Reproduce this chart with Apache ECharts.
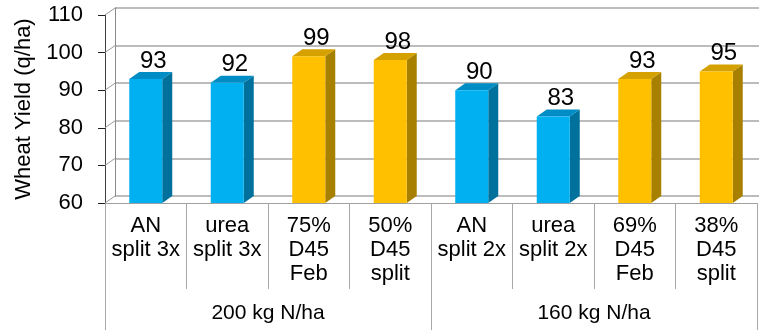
<!DOCTYPE html>
<html>
<head>
<meta charset="utf-8">
<script src="https://cdn.jsdelivr.net/npm/echarts@6/dist/echarts.min.js"></script>
<style>
  html, body { margin: 0; padding: 0; background: #fff; }
  #chart { width: 759px; height: 330px; }
</style>
</head>
<body>
<div id="chart"></div>
<script>
// Treatments, yields and grouping
const categories = [
  'AN\nsplit 3x', 'urea\nsplit 3x', '75%\nD45\nFeb', '50%\nD45\nsplit',
  'AN\nsplit 2x', 'urea\nsplit 2x', '69%\nD45\nFeb', '38%\nD45\nsplit'
];
const yieldValues = [93, 92, 99, 98, 90, 83, 93, 95];
const fertiliserType = ['std', 'std', 'D45', 'D45', 'std', 'std', 'D45', 'D45'];
const nitrogenGroups = ['200 kg N/ha', '160 kg N/ha'];
const yTicks = [60, 70, 80, 90, 100, 110];

const FONT = '"Liberation Sans", Arial, sans-serif';
const DEPTH_X = 10, DEPTH_Y = -7;   // oblique depth of the 3D box
const Y_MIN = 60, Y_MAX = 110, Y_STEP = 10;

const palette = {
  std: { front: '#00B0F0', side: '#00709C', top: '#008CC4' },
  D45: { front: '#FFC000', side: '#A88000', top: '#D4A100' }
};

const chart = echarts.init(document.getElementById('chart'), null, { renderer: 'canvas' });

const barData = yieldValues.map((v, i) => [i, v, i]);
const tickData = yTicks.map(v => [0, v]);

const option = {
  animation: false,
  backgroundColor: '#ffffff',
  grid: [
    // front plane
    { left: 105, right: 2, top: 15, bottom: 127, containLabel: false },
    // back wall, shifted by the depth offset
    { left: 105 + DEPTH_X, right: 2 - DEPTH_X - 20, top: 15 + DEPTH_Y, bottom: 127 - DEPTH_Y, containLabel: false }
  ],
  xAxis: [
    {
      type: 'category', gridIndex: 0, data: categories,
      axisLine: { show: true, lineStyle: { color: '#a0a0a0', width: 1 } },
      axisTick: { show: true, interval: 0, length: 86, lineStyle: { color: '#a8a8a8', width: 1 } },
      axisLabel: { interval: 0, margin: 11, fontSize: 22, lineHeight: 24, color: '#000', fontFamily: FONT },
      splitLine: { show: false }
    },
    {
      type: 'category', gridIndex: 0, data: nitrogenGroups, position: 'bottom',
      axisLine: { show: false },
      axisTick: { show: true, interval: 0, length: 128, lineStyle: { color: '#a8a8a8', width: 1 } },
      axisLabel: { interval: 0, margin: 100, fontSize: 21, color: '#000', fontFamily: FONT },
      splitLine: { show: false }
    },
    {
      type: 'value', gridIndex: 1, min: 0, max: 1, show: false
    }
  ],
  yAxis: [
    {
      type: 'value', gridIndex: 0, min: Y_MIN, max: Y_MAX, interval: Y_STEP,
      name: 'Wheat Yield (q/ha)', nameLocation: 'middle', nameGap: 68, nameRotate: 90,
      nameTextStyle: { fontSize: 22, color: '#000', fontFamily: FONT },
      axisLine: { show: true, lineStyle: { color: '#404040', width: 1 } },
      axisTick: { show: true, length: 7, lineStyle: { color: '#202020', width: 1 } },
      axisLabel: { margin: 22, fontSize: 22, color: '#000', fontFamily: FONT },
      splitLine: { show: false }
    },
    {
      type: 'value', gridIndex: 1, min: Y_MIN, max: Y_MAX, interval: Y_STEP,
      axisLine: { show: true, lineStyle: { color: '#8a8a8a', width: 1 } },
      axisTick: { show: false },
      axisLabel: { show: false },
      splitLine: { show: true, lineStyle: { color: '#a6a6a6', width: 1.5 } }
    }
  ],
  series: [
    {
      // diagonal edges joining the front axis ticks to the back wall
      type: 'custom', xAxisIndex: 0, yAxisIndex: 0, z: 1,
      data: tickData,
      renderItem(params, api) {
        const p = api.coord([0, api.value(1)]);
        const band = api.size([1, 0])[0];
        const x = p[0] - band / 2;
        return {
          type: 'line',
          shape: { x1: x, y1: p[1], x2: x + DEPTH_X, y2: p[1] + DEPTH_Y },
          style: { stroke: '#9a9a9a', lineWidth: 1 }
        };
      }
    },
    {
      // 3D columns with value labels
      type: 'custom', xAxisIndex: 0, yAxisIndex: 0, z: 5,
      data: barData,
      renderItem(params, api) {
        const idx = api.value(2);
        const colors = palette[fertiliserType[idx]];
        const topPt = api.coord([api.value(0), api.value(1)]);
        const basePt = api.coord([api.value(0), Y_MIN]);
        const band = api.size([1, 0])[0];
        const w = band * 0.405;
        const x0 = topPt[0] - w / 2, x1 = topPt[0] + w / 2;
        const yt = topPt[1], yb = basePt[1];
        return {
          type: 'group',
          children: [
            {
              type: 'polygon',
              shape: { points: [[x1, yt], [x1 + DEPTH_X, yt + DEPTH_Y], [x1 + DEPTH_X, yb + DEPTH_Y], [x1, yb]] },
              style: { fill: colors.side }
            },
            {
              type: 'polygon',
              shape: { points: [[x0, yt], [x0 + DEPTH_X, yt + DEPTH_Y], [x1 + DEPTH_X, yt + DEPTH_Y], [x1, yt]] },
              style: { fill: colors.top }
            },
            {
              type: 'rect',
              shape: { x: x0, y: yt, width: w, height: yb - yt },
              style: { fill: colors.front }
            },
            {
              type: 'text',
              x: topPt[0] + 7.5, y: yt + DEPTH_Y + 1,
              style: {
                text: String(api.value(1)),
                textAlign: 'center', textVerticalAlign: 'bottom',
                fontSize: 24, fontFamily: FONT, fill: '#000'
              }
            }
          ]
        };
      }
    }
  ]
};

chart.setOption(option);
</script>
</body>
</html>
